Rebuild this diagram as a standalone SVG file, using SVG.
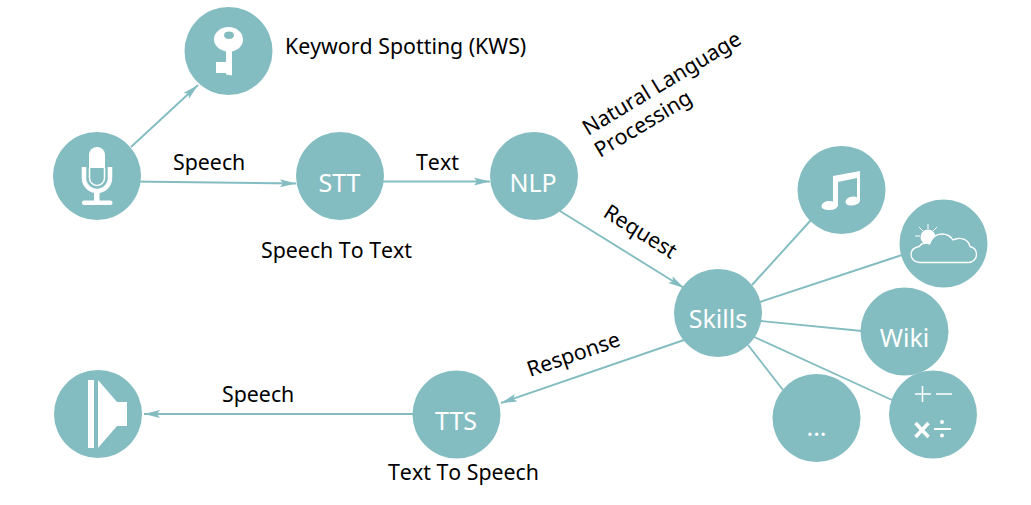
<svg xmlns="http://www.w3.org/2000/svg" width="1031" height="505" viewBox="0 0 1031 505">
<style>
.c{fill:#84bdc1}
.l{font-family:"Noto Sans","Open Sans",sans-serif;font-size:21.330px;fill:#000;font-kerning:none}
.n{font-family:"Noto Sans","Open Sans",sans-serif;font-size:25px;fill:#fff;text-anchor:middle}
.e{fill:none;stroke:#84bdc1;stroke-width:1.900}
.w{fill:#fff}
.o{fill:none;stroke:#fff}
</style>
<defs><marker id="a" markerUnits="userSpaceOnUse" markerWidth="18" markerHeight="10" refX="16" refY="5" orient="auto"><path d="M0 1L16 5L0 9L3 5Z" fill="#84bdc1"/></marker></defs>
<rect width="1031" height="505" fill="#fff"/>
<g id="connectors">
<path class="e" d="M131 147L198 85" marker-end="url(#a)"/>
<path class="e" d="M131 181.500L296 183.500" marker-end="url(#a)"/>
<path class="e" d="M383 181.500L490 181.500" marker-end="url(#a)"/>
<path class="e" d="M560 211L684 288" marker-end="url(#a)"/>
<path class="e" d="M684 340L501 403" marker-end="url(#a)"/>
<path class="e" d="M413 414L144 414" marker-end="url(#a)"/>
<path class="e" d="M752 285L811 220"/>
<path class="e" d="M760 302L902 255"/>
<path class="e" d="M761 321L862 331"/>
<path class="e" d="M752 336L892 400"/>
<path class="e" d="M748 345L783 390"/>
</g>
<g id="mic"><circle class="c" cx="97" cy="176" r="44"/>
<path class="w" d="M89 155a8 8 0 0 1 16 0V168H89Z"/>
<path class="o" stroke-width="4.500" d="M84 167V178a13 13 0 0 0 26 0V167"/>
<path class="o" stroke-width="1.500" d="M89.500 168V178a7.500 7.500 0 0 0 15 0V168"/>
<rect class="w" x="94" y="191" width="5.500" height="11"/><rect class="w" x="82" y="200.500" width="30.500" height="4.500" rx="2"/></g>
<g id="key"><circle class="c" cx="228.500" cy="51" r="44"/>
<path class="w" fill-rule="evenodd" d="M228.500 27C236.500 27 243 32.500 243 39.500C243 45.500 238.500 50 232 51.500V75.500L226 74.500V73H216V62H226V51.500C219.500 50 214 45.500 214 39.500C214 32.500 220.500 27 228.500 27ZM229 31.500C226 31.500 224 33.200 224 35.300S226 39 229 39S234 37.400 234 35.300S232 31.500 229 31.500Z"/></g>
<g id="stt"><circle class="c" cx="340" cy="176" r="44"/><text class="n" x="339.500" y="192">STT</text></g>
<g id="nlp"><circle class="c" cx="534" cy="176" r="44"/><text class="n" x="533" y="192">NLP</text></g>
<g id="skills"><circle class="c" cx="718" cy="313" r="44"/><text class="n" x="718" y="328">Skills</text></g>
<g id="tts"><circle class="c" cx="456.500" cy="414.500" r="44"/><text class="n" x="456" y="430">TTS</text></g>
<g id="speaker"><circle class="c" cx="98" cy="414" r="44"/>
<rect class="w" x="88" y="380" width="6" height="68"/><path class="w" d="M98 380L117 402H127V426H117L98 448Z"/></g>
<g id="music"><circle class="c" cx="841.500" cy="190" r="44"/>
<path class="w" d="M833 176L860 171V200C860 203 857 205 852 205.500C848 205.800 845.500 204 845.500 202C845.500 199 849 196.800 853 196.500C854.500 196.400 856 196.700 857 197.200V178L838 182V205C838 208 834 210 829 210C825 210 821.500 208.800 821.500 206.500C821.500 203 825.500 201 829.500 201C831 201 832 201.200 833 201.500Z"/></g>
<g id="weather"><circle class="c" cx="943.500" cy="243.500" r="44"/>
<circle class="w" cx="928" cy="237" r="7.500"/>
<path class="o" stroke-width="1" d="M928 224v5M915 236h5M919 227l4 4M937 227l-4 4M919 246l3-3"/>
<path fill="#84bdc1" stroke="#fff" stroke-width="1.300" d="M920 262.500H968C973.500 262.500 976.500 258.500 976.500 254.500C976.500 250.500 974 247.500 970 246.500C969 241 964 238 958 238.500C956 238.700 954.500 239.300 953 240C950.500 236 946.500 234 942 234C936 234 931.500 238 929.500 244C926 242.500 922 243.500 919 246.500C914.500 247.500 911 250.500 911 254.500C911 259 915 262.500 920 262.500Z"/></g>
<g id="wiki"><circle class="c" cx="904.500" cy="331.500" r="44"/><text class="n" x="904.500" y="347">Wiki</text></g>
<g id="more"><circle class="c" cx="816.500" cy="418" r="44"/><text class="n" x="816.500" y="436">...</text></g>
<g id="math"><circle class="c" cx="933" cy="414.500" r="44"/>
<path class="o" stroke-width="1.500" d="M922.500 386v16M915 394h16M936 394h16"/>
<path class="o" stroke-width="3.500" d="M915.500 423l13 14M928.500 423l-13 14"/>
<path class="o" stroke-width="2" d="M934 429h17"/><circle class="w" cx="942" cy="422" r="2"/><circle class="w" cx="942" cy="435.500" r="2"/></g>
<g id="labels">
<text class="l" x="285" y="54">Keyword Spotting (KWS)</text>
<text class="l" x="173" y="170">Speech</text>
<text class="l" x="416" y="170">Text</text>
<text class="l" x="261" y="258">Speech To Text</text>
<text class="l" transform="translate(588 136) rotate(-31)">Natural Language</text>
<text class="l" transform="translate(600 158) rotate(-31)">Processing</text>
<text class="l" transform="translate(602 216) rotate(32)">Request</text>
<text class="l" transform="translate(530 377) rotate(-19)">Response</text>
<text class="l" x="222" y="402">Speech</text>
<text class="l" x="388" y="480">Text To Speech</text>
</g>
</svg>
